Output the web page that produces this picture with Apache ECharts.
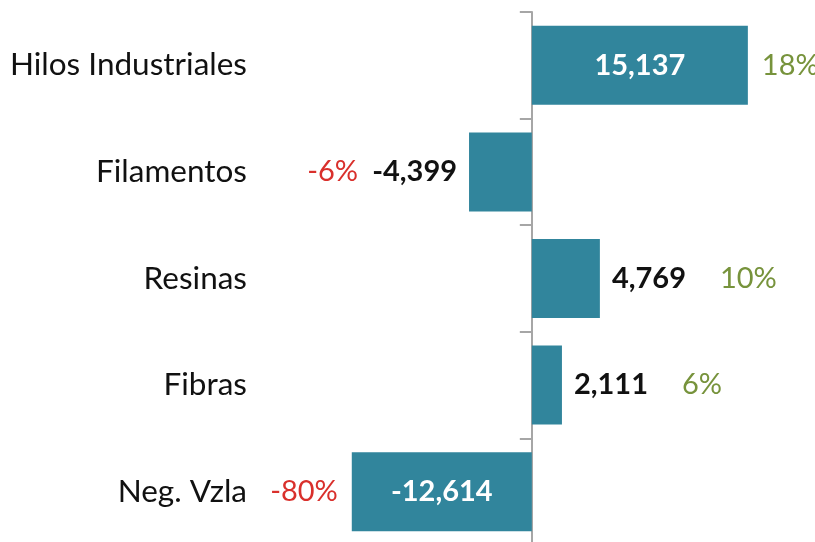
<!DOCTYPE html>
<html>
<head>
<meta charset="utf-8">
<script src="https://cdn.jsdelivr.net/npm/echarts@6/dist/echarts.min.js"></script>
<style>
  html, body { margin: 0; padding: 0; background: #fff; }
  #chart { width: 815px; height: 542px; }
</style>
</head>
<body>
<div id="chart"></div>
<script>
// datos
var categorias = ["Hilos Industriales", "Filamentos", "Resinas", "Fibras", "Neg. Vzla"];
var valores = [15137, -4399, 4769, 2111, -12614];
var porcentajes = ["18%", "-6%", "10%", "6%", "-80%"];

var FONT = "Lato";
var limiteInterno = 10000; // barras grandes llevan el valor dentro

var chart = echarts.init(document.getElementById("chart"));

var option = {
  animation: false,
  grid: {
    left: 332, top: 12, width: 471, height: 533,
    containLabel: false,
    outerBoundsMode: "none"
  },
  xAxis: {
    type: "value",
    min: -14000,
    max: 19000,
    show: false
  },
  yAxis: {
    type: "category",
    inverse: true,
    data: categorias,
    axisLine: { show: true, onZero: true, lineStyle: { color: "#a6a6a6", width: 2 } },
    axisTick: { show: true, length: 12, lineStyle: { color: "#a6a6a6", width: 2 } },
    axisLabel: { margin: 85, color: "#111", fontSize: 31.5, fontFamily: FONT },
    splitLine: { show: false }
  },
  series: [
    {
      type: "bar",
      barWidth: 79,
      itemStyle: { color: "#31859c" },
      data: valores.map(function (v) {
        var dentro = Math.abs(v) > limiteInterno;
        return {
          value: v,
          label: {
            show: true,
            position: dentro ? "inside" : (v < 0 ? "left" : "right"),
            distance: 12,
            color: dentro ? "#fff" : "#111",
            fontWeight: "bold",
            fontSize: 29,
            fontFamily: FONT,
            formatter: function (p) { return p.value.toLocaleString("en-US"); }
          }
        };
      })
    },
    {
      type: "bar",
      barWidth: 79,
      barGap: "-100%",
      silent: true,
      itemStyle: { color: "rgba(0,0,0,0)" },
      data: valores.map(function (v, i) {
        var dentro = Math.abs(v) > limiteInterno;
        return {
          value: v,
          label: {
            show: true,
            position: v < 0 ? "left" : "right",
            distance: dentro ? 14 : (v < 0 ? 111 : 120),
            color: v < 0 ? "#d9302c" : "#77933c",
            fontSize: 29,
            fontFamily: FONT,
            formatter: function () { return porcentajes[i]; }
          }
        };
      })
    }
  ]
};

chart.setOption(option);
window.onresize = function () { chart.resize(); };
</script>
</body>
</html>
